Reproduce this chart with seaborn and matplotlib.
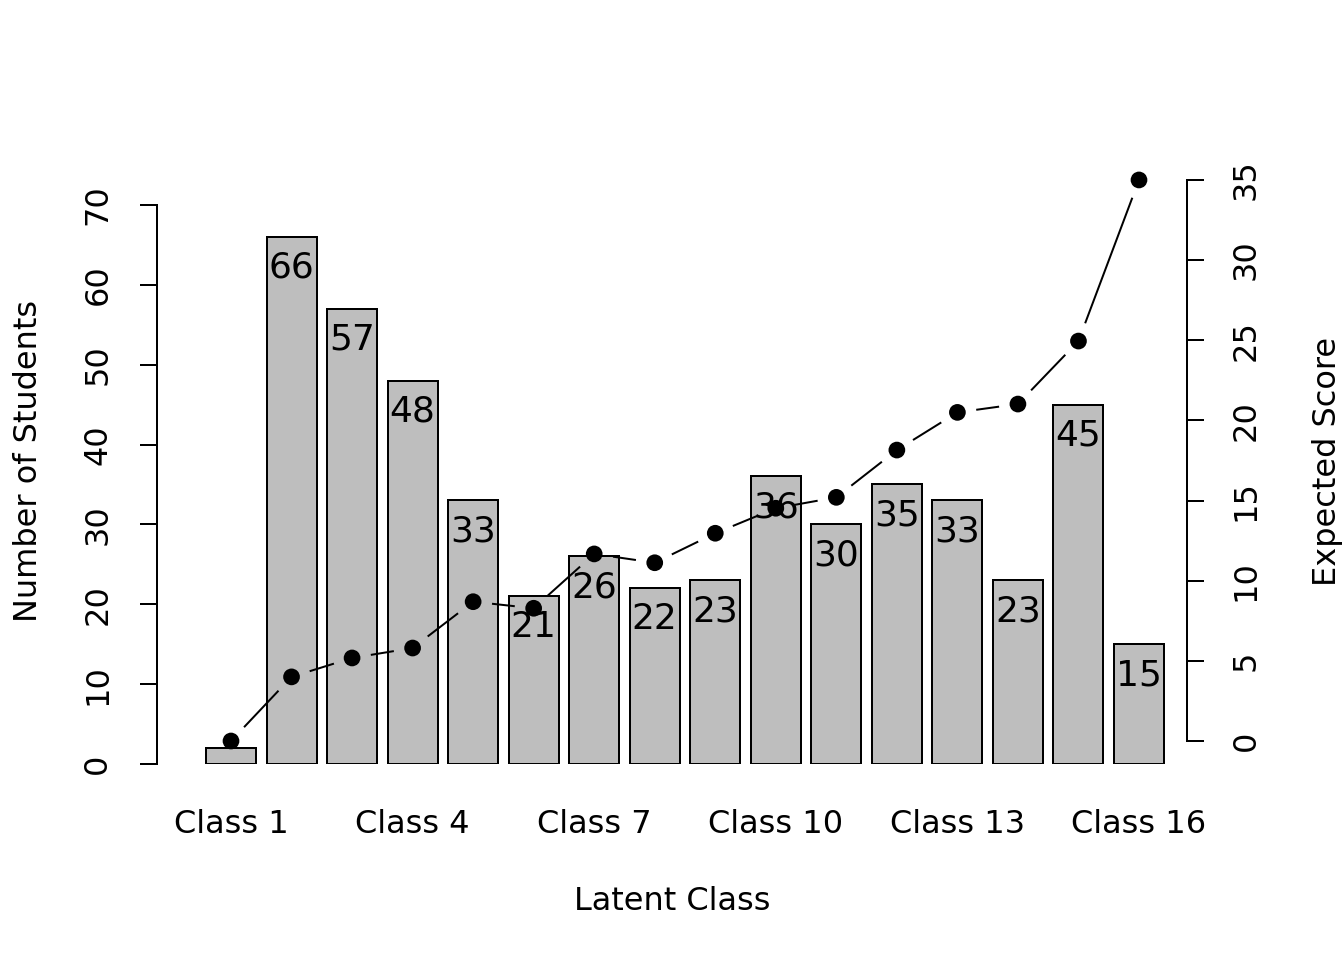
import numpy as np
import pandas as pd
import matplotlib
matplotlib.use("Agg")
import matplotlib.pyplot as plt
import matplotlib.transforms as mtransforms
import seaborn as sns

# ---------------- DATA ---------------- #

classes = [f"Class {i}" for i in range(1, 17)]
n_students = [2, 66, 57, 48, 33, 21, 26, 22, 23, 36, 30, 35, 33, 23, 45, 15]
expected_score = [0.0, 4.0, 5.18, 5.8, 8.69, 8.28, 11.67, 11.12, 12.96,
                  14.52, 15.2, 18.15, 20.5, 21.02, 24.95, 35.0]
shown_labels = ["Class 1", "Class 4", "Class 7", "Class 10", "Class 13", "Class 16"]

df = pd.DataFrame({"cls": classes, "n": n_students, "score": expected_score})

# ---------------- STYLE ---------------- #

sns.set_style("white")
plt.rcParams["font.family"] = ["DejaVu Sans"]
plt.rcParams["font.size"] = 12
for k in ["text.color", "axes.labelcolor", "xtick.color", "ytick.color"]:
    plt.rcParams[k] = "black"

PX = 72 / 192  # one pixel in points

fig = plt.figure(figsize=(7, 5), dpi=192)
ax = fig.add_axes([157 / 1344, 1 - 764 / 960, (1187 - 157) / 1344, (764 - 158) / 960])

sns.barplot(data=df, x="cls", y="n", order=classes, color="#BEBEBE",
            saturation=1, width=0.826, edgecolor="black", linewidth=0.75, ax=ax)

ax.set_xlim(-1.2225, 15.793)
ax.set_ylim(0, 75.88)

# labels inside bars (clipped to plot region, as in R)
lab_tr = mtransforms.offset_copy(ax.transData, fig=fig, x=0, y=-31 * PX, units="points")
for i, v in enumerate(n_students):
    t = ax.text(i, v, str(v), transform=lab_tr, ha="center", va="center", fontsize=13.5)
    t.set_clip_box(ax.bbox)
    t.set_clip_on(True)

ax.set_xticks([classes.index(c) for c in shown_labels])
ax.set_xticklabels(shown_labels)
ax.tick_params(axis="x", length=0, pad=17, labelsize=12)
ax.set_yticks(range(0, 71, 10))
ax.tick_params(axis="y", direction="out", length=17 * PX, width=0.75, pad=10,
               labelsize=12, labelrotation=90, left=True)
for lab in ax.get_yticklabels():
    lab.set_va("center")

for s in ["top", "right", "bottom"]:
    ax.spines[s].set_visible(False)
ax.spines["left"].set_bounds(0, 70)
ax.spines["left"].set_linewidth(0.75)
ax.spines["left"].set_color("black")

ax.set_xlabel("Latent Class", fontsize=12, labelpad=17)
ax.set_ylabel("Number of Students", fontsize=12, labelpad=14.5)

# ---------------- EXPECTED SCORE LINE ---------------- #

ax2 = ax.twinx()
ax2.set_ylim(-1.435, 36.37)
ax2.set_xlim(ax.get_xlim())

xs = np.arange(len(classes))
pts = ax2.transData.transform(np.column_stack([xs, expected_score]))
gap = 19  # px, like R type="b"
inv = ax2.transData.inverted()
for p0, p1 in zip(pts[:-1], pts[1:]):
    d = p1 - p0
    L = np.hypot(*d)
    if L <= 2 * gap:
        continue
    u = d / L
    a, b = inv.transform([p0 + u * gap, p1 - u * gap])
    ax2.plot([a[0], b[0]], [a[1], b[1]], color="black", lw=0.75, solid_capstyle="butt")

sns.scatterplot(x=xs, y=expected_score, color="black", s=(16.7 * PX) ** 2,
                edgecolor="none", ax=ax2, clip_on=False, zorder=5)

ax2.set_yticks(range(0, 36, 5))
ax2.tick_params(axis="y", direction="out", length=17 * PX, width=0.75, pad=10,
                labelsize=12, labelrotation=90, right=True)
for lab in ax2.get_yticklabels():
    lab.set_va("center")
for s in ["top", "left", "bottom"]:
    ax2.spines[s].set_visible(False)
ax2.spines["right"].set_bounds(0, 35)
ax2.spines["right"].set_linewidth(0.75)
ax2.spines["right"].set_color("black")
ax2.set_ylabel("Expected Score", fontsize=12, labelpad=19)

fig.savefig("out.png", dpi=192, facecolor="white")
